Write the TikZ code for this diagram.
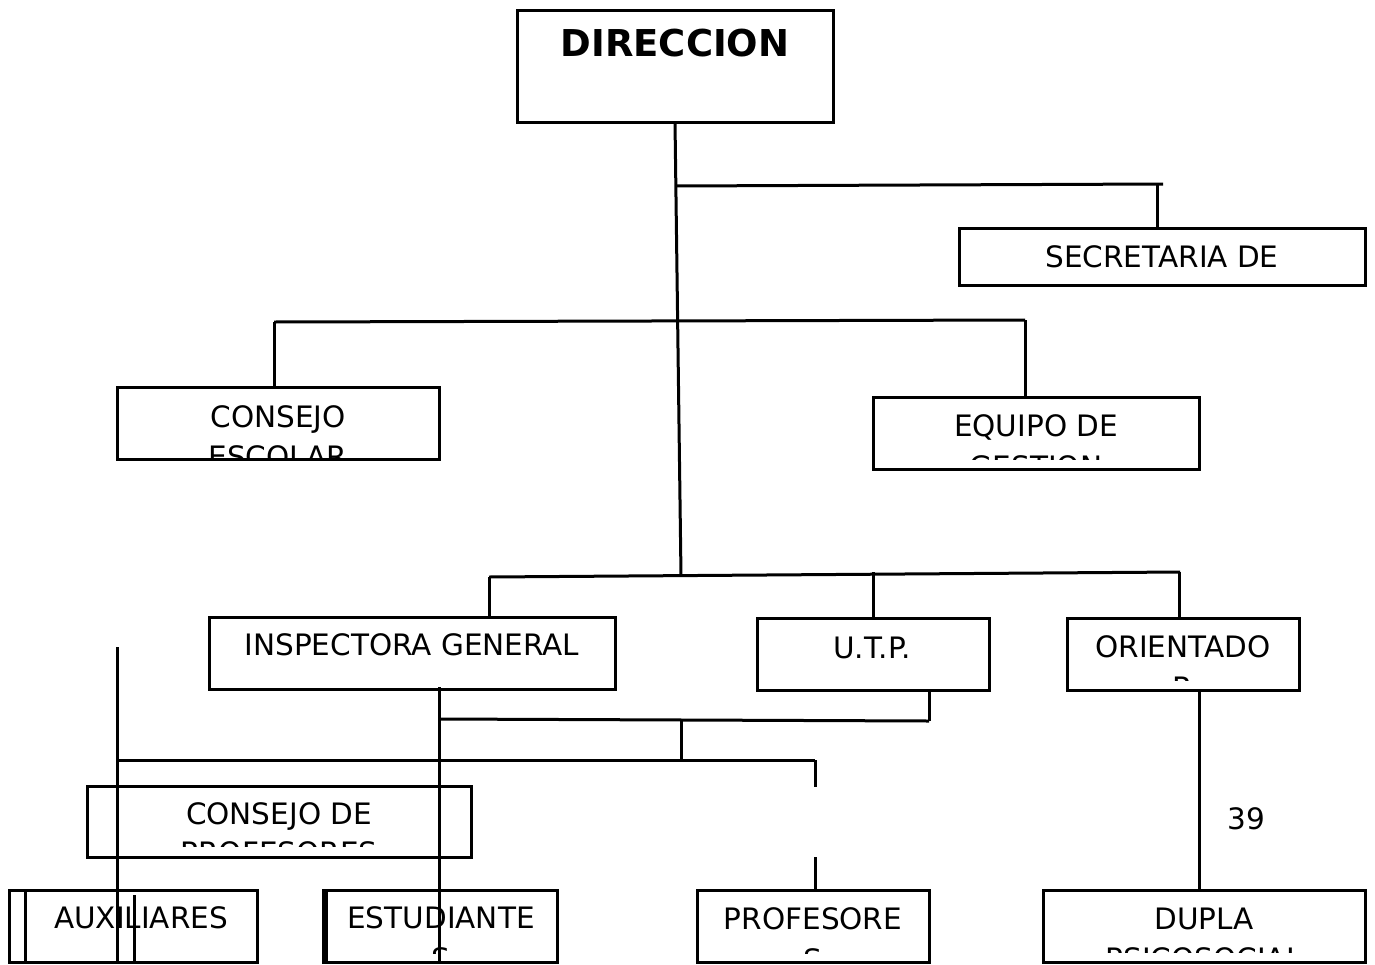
\documentclass[tikz,border=0pt]{standalone}
\usepackage{fontspec}
\setmainfont{DejaVu Sans}
\begin{document}
\begin{tikzpicture}[x=1pt,y=-1pt,
  box/.style={draw, rectangle, anchor=north west, inner sep=0pt, outer sep=0pt, line width=3pt},
  lbl/.style={anchor=base, inner sep=0pt, font=\fontsize{29.5}{32}\selectfont},
  conn/.style={line width=3pt}]
\useasboundingbox (0,0) rectangle (1375,964);

% boxes
\node[box, minimum width=316pt, minimum height=112pt] (dir) at (517,10) {};
\node[box, minimum width=406pt, minimum height=57pt] (sec) at (959,228) {};
\node[box, minimum width=322pt, minimum height=72pt] (ces) at (117,387) {};
\node[box, minimum width=326pt, minimum height=72pt] (eqg) at (873,397) {};
\node[box, minimum width=406pt, minimum height=72pt] (ins) at (209,617) {};
\node[box, minimum width=232pt, minimum height=72pt] (utp) at (757,618) {};
\node[box, minimum width=232pt, minimum height=72pt] (ori) at (1067,618) {};
\node[box, minimum width=384pt, minimum height=71pt] (cpr) at (87,786) {};
\node[box, minimum width=248pt, minimum height=72pt] (aux) at (9,890) {};
\node[box, minimum width=234pt, minimum height=72pt] (est) at (323,890) {};
\node[box, minimum width=232pt, minimum height=72pt] (pro) at (697,890) {};
\node[box, minimum width=322pt, minimum height=72pt] (dup) at (1043,890) {};

% labels
\node[lbl, font=\fontsize{37}{40}\selectfont\bfseries] (dirT) at (675,56) {DIRECCION};
\node[lbl] (secT) at (1162,267) {SECRETARIA DE};
\begin{scope}\clip (117,387) rectangle (439,457);
  \node[lbl] (cesA) at (278,427) {CONSEJO};
  \node[lbl] (cesB) at (278,467) {ESCOLAR};
\end{scope}
\begin{scope}\clip (873,397) rectangle (1199,459);
  \node[lbl] (eqgA) at (1036,436) {EQUIPO DE};
  \node[lbl] (eqgB) at (1036,477) {GESTION};
\end{scope}
\node[lbl] (insT) at (412,655) {INSPECTORA GENERAL};
\node[lbl] (utpT) at (872,658) {U.T.P.};
\begin{scope}\clip (1067,618) rectangle (1299,680);
  \node[lbl] (oriA) at (1183,657) {ORIENTADO};
  \node[lbl] (oriB) at (1183,698) {R};
\end{scope}
\begin{scope}\clip (87,786) rectangle (471,846);
  \node[lbl] (cprA) at (279,824) {CONSEJO DE};
  \node[lbl] (cprB) at (279,863) {PROFESORES};
\end{scope}
\node[lbl] (auxT) at (141,928) {AUXILIARES};
\begin{scope}\clip (323,890) rectangle (557,953);
  \node[lbl] (estA) at (441,928) {ESTUDIANTE};
  \node[lbl] (estB) at (441,969) {S};
\end{scope}
\begin{scope}\clip (697,890) rectangle (929,953);
  \node[lbl] (proA) at (813,929) {PROFESORE};
  \node[lbl] (proB) at (813,970) {S};
\end{scope}
\begin{scope}\clip (1043,890) rectangle (1365,952);
  \node[lbl] (dupA) at (1204,929) {DUPLA};
  \node[lbl] (dupB) at (1204,969) {PSICOSOCIAL};
\end{scope}
\node[lbl] (num) at (1246,829) {39};

% junction coordinates
\coordinate (m1) at (675,186);
\coordinate (m1r) at (1163,184);
\coordinate (s1) at (1157,184);
\coordinate (s1b) at (1157,228);
\coordinate (h2l) at (274,322);
\coordinate (h2r) at (1025,320);
\coordinate (m3) at (681,576);
\coordinate (h3l) at (489,577);
\coordinate (h3r) at (1180,572);
\coordinate (u3) at (873,572);
\coordinate (o3) at (1179,572);
\coordinate (i4) at (439,687);
\coordinate (i4b) at (439,964);
\coordinate (h4l) at (439,719);
\coordinate (h4r) at (929,721);
\coordinate (m5) at (681,720);
\coordinate (m5b) at (681,760);
\coordinate (h5l) at (116,760);
\coordinate (h5r) at (815,760);
\coordinate (p5) at (815,787);
\coordinate (p6) at (815,857);
\coordinate (a7) at (117,647);
\coordinate (a7b) at (117,964);
\coordinate (a8) at (134,895);
\coordinate (a8b) at (134,964);

% connectors
\draw[conn] (dir.south) -- (m3);
\draw[conn] (m1) -- (m1r);
\draw[conn] (s1) -- (s1b);
\draw[conn] (h2l) -- (h2r);
\draw[conn] (h2l) -- (ces.north -| h2l);
\draw[conn] (h2r) -- (eqg.north -| h2r);
\draw[conn] (h3l) -- (h3r);
\draw[conn] (h3l) -- (ins.north -| h3l);
\draw[conn] (u3) -- (utp.north);
\draw[conn] (o3) -- (ori.north -| o3);
\draw[conn] (i4) -- (i4b);
\draw[conn] (h4l) -- (h4r);
\draw[conn] (h4r) -- (utp.south -| h4r);
\draw[conn] (m5) -- (m5b);
\draw[conn] (h5l) -- (h5r);
\draw[conn] (h5r) -- (p5);
\draw[conn] (p6) -- (pro.north -| p6);
\draw[conn] (a7) -- (a7b);
\draw[conn] (a8) -- (a8b);
\draw[conn] (ori.south -| dup.north) ++(-5,0) coordinate (d0) -- (dup.north -| d0);
\draw[conn] (aux.north west) ++(16,0) coordinate (ax) -- (aux.south west -| ax);
\draw[conn] (est.north west) ++(3,0) coordinate (ex) -- (est.south west -| ex);
\end{tikzpicture}
\end{document}
